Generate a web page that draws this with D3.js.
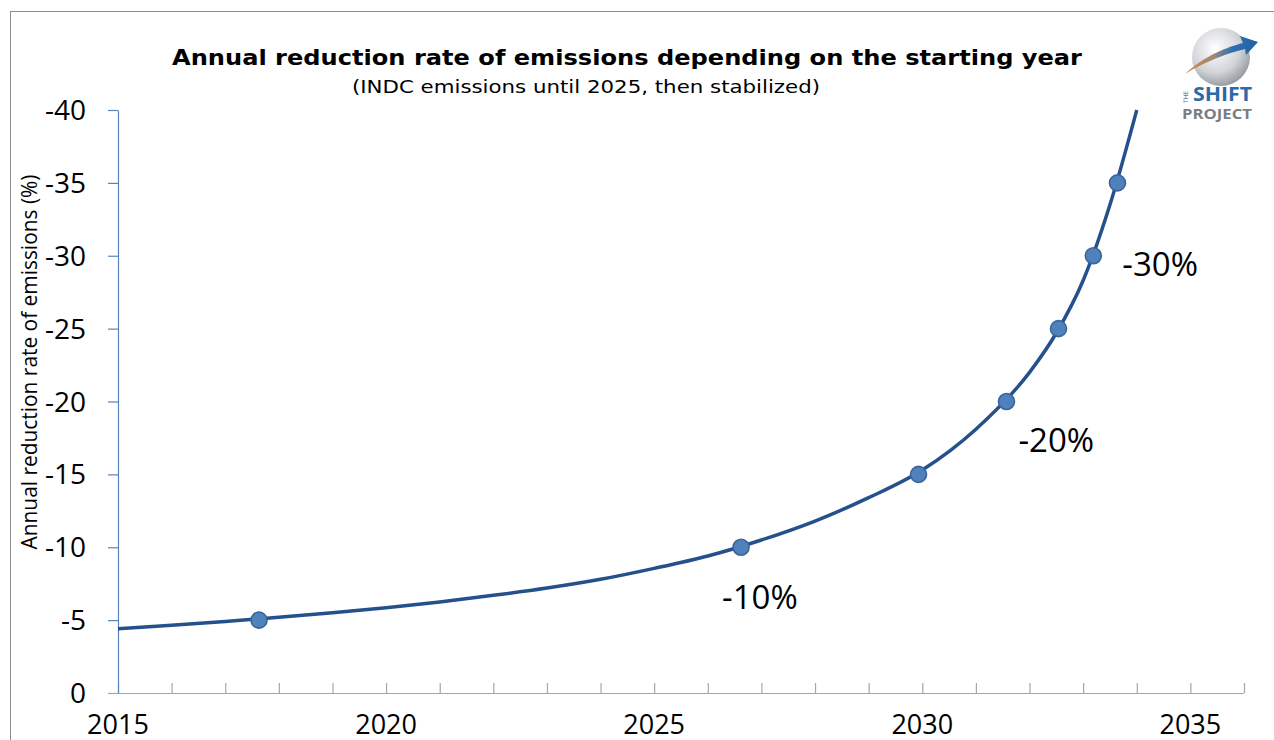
<!DOCTYPE html>
<html>
<head>
<meta charset="utf-8">
<script src="https://cdn.jsdelivr.net/npm/d3@7"></script>
<style>
  html, body { margin: 0; padding: 0; background: #fff; }
  svg { display: block; }
</style>
</head>
<body>
<svg id="chart" width="1274" height="740"></svg>
<script>
// Required annual reduction rate (%) by starting year — curve samples
const curveYears  = [2015, 2016, 2017, 2018, 2019, 2020, 2021, 2022, 2023, 2024, 2025,
                     2026, 2027, 2028, 2029, 2030, 2031, 2032, 2032.5, 2033, 2033.5, 2034];
const curveRates  = [-4.4, -4.65, -4.9, -5.2, -5.5, -5.85, -6.25, -6.7, -7.2, -7.8, -8.55,
                     -9.4, -10.5, -11.8, -13.4, -15.3, -18.1, -22.0, -24.7, -28.3, -33.5, -40];

// Marked starting years and the rates they imply
const markerYears = [2017.63, 2026.62, 2029.93, 2031.57, 2032.54, 2033.19, 2033.64];
const markerRates = [-5, -10, -15, -20, -25, -30, -35];

// Callout labels
const calloutText  = ["-10%", "-20%", "-30%"];
const calloutYears = [2026.62, 2031.57, 2033.19];
const calloutRates = [-10, -20, -30];

const yTicks = [0, -5, -10, -15, -20, -25, -30, -35, -40];
const xLabelYears = [2015, 2020, 2025, 2030, 2035];

const svg = d3.select("#chart");

// outer frame
svg.append("rect")
  .attr("x", 10.5).attr("y", 11.5)
  .attr("width", 1300).attr("height", 800)
  .attr("fill", "none").attr("stroke", "#8c8c8c").attr("stroke-width", 1);

const x = d3.scaleLinear().domain([2015, 2036]).range([118, 1244]);
const y = d3.scaleLinear().domain([0, -40]).range([693, 110]);

// X axis (grey baseline, ticks pointing up every year)
const xAxis = d3.axisBottom(x)
  .tickValues(d3.range(2015, 2037))
  .tickSizeInner(-10).tickSizeOuter(0)
  .tickFormat("");
const gx = svg.append("g").attr("transform", `translate(0,${y(0)})`).call(xAxis);
gx.select(".domain").attr("stroke", "#a6a6a6").attr("stroke-width", 1.2)
  .attr("d", `M${108},0.5H${x(2036)}`);
gx.selectAll(".tick line").attr("stroke", "#a6a6a6").attr("stroke-width", 1.2);

svg.append("g").selectAll("text")
  .data(xLabelYears).join("text")
  .attr("x", d => x(d)).attr("y", 734)
  .attr("text-anchor", "middle")
  .attr("font-family", "'Open Sans', sans-serif")
  .attr("font-size", 27).attr("fill", "#000")
  .text(d => d);

// Y axis (blue line, ticks outward)
const yAxis = d3.axisLeft(y)
  .tickValues(yTicks)
  .tickSizeInner(10).tickSizeOuter(0)
  .tickFormat("");
const gy = svg.append("g").attr("transform", `translate(${x(2015)},0)`).call(yAxis);
gy.select(".domain").attr("stroke", "#5b84b8").attr("stroke-width", 1.2);
gy.selectAll(".tick line").attr("stroke", "#5b84b8").attr("stroke-width", 1.2);
gy.selectAll(".tick").filter(d => d === 0).select("line").attr("stroke", "#a6a6a6");

svg.append("g").selectAll("text")
  .data(yTicks).join("text")
  .attr("x", 86).attr("y", d => y(d) + 10)
  .attr("text-anchor", "end")
  .attr("font-family", "'Open Sans', sans-serif")
  .attr("font-size", 28).attr("fill", "#000")
  .text(d => d);

// Y axis title
svg.append("text")
  .attr("transform", "translate(37,362) rotate(-90)")
  .attr("text-anchor", "middle")
  .attr("font-family", "'Open Sans', sans-serif")
  .attr("font-size", 21).attr("fill", "#000")
  .attr("textLength", 375).attr("lengthAdjust", "spacingAndGlyphs")
  .text("Annual reduction rate of emissions (%)");

// Titles
svg.append("text")
  .attr("x", 627).attr("y", 65)
  .attr("text-anchor", "middle")
  .attr("font-family", "'DejaVu Sans', sans-serif")
  .attr("font-weight", "bold")
  .attr("font-size", 20.5).attr("fill", "#000")
  .attr("textLength", 910).attr("lengthAdjust", "spacingAndGlyphs")
  .text("Annual reduction rate of emissions depending on the starting year");

svg.append("text")
  .attr("x", 586).attr("y", 93)
  .attr("text-anchor", "middle")
  .attr("font-family", "'DejaVu Sans', sans-serif")
  .attr("font-size", 17).attr("fill", "#000")
  .attr("textLength", 468).attr("lengthAdjust", "spacingAndGlyphs")
  .text("(INDC emissions until 2025, then stabilized)");

// Curve
const pts = curveYears.map((yr, i) => [yr, curveRates[i]]);
const line = d3.line()
  .x(d => x(d[0])).y(d => y(d[1]))
  .curve(d3.curveMonotoneX);
svg.append("path")
  .datum(pts)
  .attr("d", line)
  .attr("fill", "none")
  .attr("stroke", "#24508c")
  .attr("stroke-width", 3.5);

// Markers
svg.append("g").selectAll("circle")
  .data(markerYears.map((yr, i) => [yr, markerRates[i]]))
  .join("circle")
  .attr("cx", d => x(d[0])).attr("cy", d => y(d[1]))
  .attr("r", 8)
  .attr("fill", "#4f81bd")
  .attr("stroke", "#3a659b")
  .attr("stroke-width", 1.6);

// Callouts
const calloutDx = [-19, 12, 29];
const calloutDy = [62, 50, 20];
svg.append("g").selectAll("text")
  .data(calloutText).join("text")
  .attr("x", (d, i) => x(calloutYears[i]) + calloutDx[i])
  .attr("y", (d, i) => y(calloutRates[i]) + calloutDy[i])
  .attr("font-family", "'Open Sans', sans-serif")
  .attr("font-size", 33).attr("fill", "#000")
  .text(d => d);

// Logo: sphere, swoosh arrow, wordmark
const defs = svg.append("defs");
const sg = defs.append("radialGradient").attr("id", "sphereGrad")
  .attr("cx", "40%").attr("cy", "35%").attr("r", "70%");
sg.append("stop").attr("offset", "0%").attr("stop-color", "#ffffff");
sg.append("stop").attr("offset", "60%").attr("stop-color", "#d2d4d8");
sg.append("stop").attr("offset", "100%").attr("stop-color", "#8f949c");
const ag = defs.append("linearGradient").attr("id", "arrowGrad")
  .attr("x1", "0%").attr("y1", "0%").attr("x2", "100%").attr("y2", "0%");
ag.append("stop").attr("offset", "0%").attr("stop-color", "#d9873a");
ag.append("stop").attr("offset", "40%").attr("stop-color", "#9a8a7a");
ag.append("stop").attr("offset", "65%").attr("stop-color", "#2f6fb0");
ag.append("stop").attr("offset", "100%").attr("stop-color", "#1f5fa6");

const logo = svg.append("g");
logo.append("circle").attr("cx", 1221).attr("cy", 57).attr("r", 29)
  .attr("fill", "url(#sphereGrad)");
logo.append("path")
  .attr("d", "M1185,74 C1205,55 1228,47 1243,43 L1240,36 L1258,42 L1246,55 L1245,49 C1228,53 1206,61 1185,74 Z")
  .attr("fill", "url(#arrowGrad)");
logo.append("text")
  .attr("transform", "translate(1188,103) rotate(-90)")
  .attr("font-family", "'DejaVu Sans', sans-serif").attr("font-size", 6)
  .attr("fill", "#6d7178").text("THE");
logo.append("text")
  .attr("x", 1193).attr("y", 101)
  .attr("font-family", "'Open Sans', sans-serif").attr("font-weight", "bold")
  .attr("font-size", 19).attr("fill", "#2a6aa8")
  .attr("textLength", 59).attr("lengthAdjust", "spacingAndGlyphs")
  .text("SHIFT");
logo.append("text")
  .attr("x", 1182).attr("y", 119)
  .attr("font-family", "'Open Sans', sans-serif").attr("font-weight", "bold")
  .attr("font-size", 14).attr("fill", "#7a7d82")
  .attr("textLength", 70).attr("lengthAdjust", "spacingAndGlyphs")
  .text("PROJECT");
</script>
</body>
</html>
